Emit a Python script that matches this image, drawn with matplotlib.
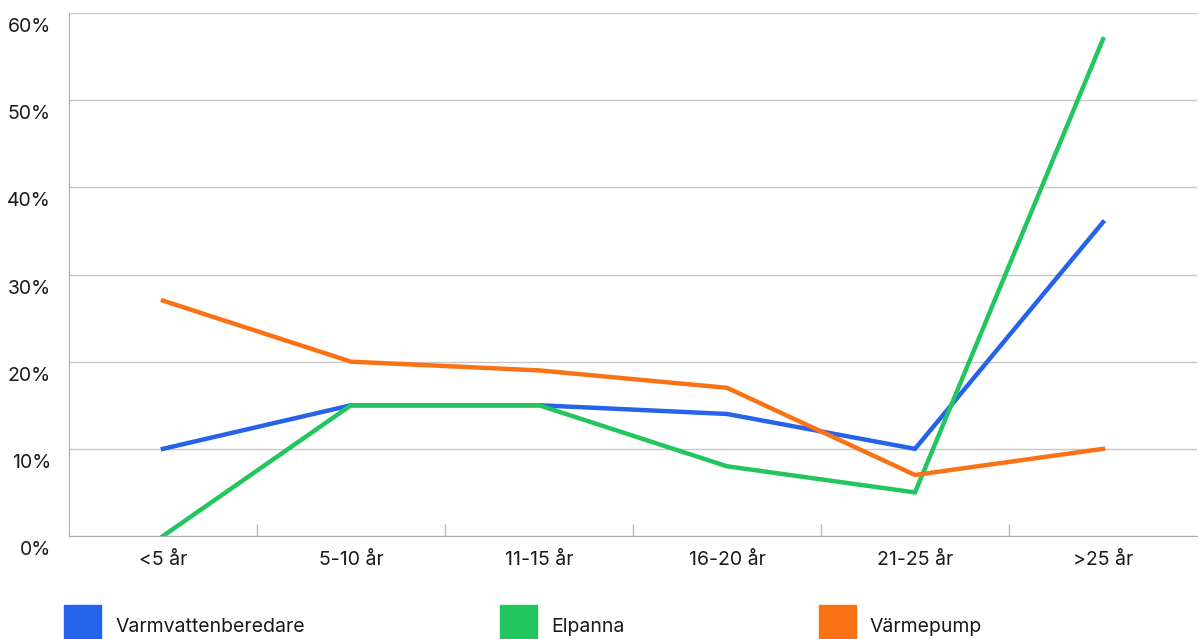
import matplotlib.pyplot as plt
from matplotlib.patches import Rectangle
from matplotlib.transforms import ScaledTranslation

plt.rcParams['font.family'] = ['Inter', 'DejaVu Sans']

kategorier = ['<5 år', '5-10 år', '11-15 år', '16-20 år', '21-25 år', '>25 år']
varmvatten = [10, 15, 15, 14, 10, 36]
elpanna = [0, 15, 15, 8, 5, 57]
varmepump = [27, 20, 19, 17, 7, 10]
serier = ['Varmvattenberedare', 'Elpanna', 'Värmepump']
farger = ['#2563EB', '#22C55E', '#F97316']

fig = plt.figure(figsize=(11.99, 6.39), dpi=100)
ax = fig.add_axes([69 / 1199, 103 / 639, 1128 / 1199, 523 / 639])

x = range(len(kategorier))
for data, f in zip([varmvatten, elpanna, varmepump], farger):
    ax.plot(x, data, color=f, lw=3.2, solid_joinstyle='miter', zorder=3)

ax.set_xlim(-0.5, len(kategorier) - 0.5)
ax.set_ylim(0, 60)
ax.set_yticks(range(0, 61, 10))
ax.set_yticklabels([f'{v}%' for v in range(0, 61, 10)], fontsize=14, color='#1a1a1a')
ax.set_xticks(list(x))
ax.set_xticklabels(kategorier, fontsize=14, color='#1a1a1a')
ax.set_xticks([i + 0.5 for i in range(len(kategorier) - 1)], minor=True)

ax.tick_params(axis='y', length=0, pad=13)
ax.tick_params(axis='x', which='major', length=0, pad=11)
ax.tick_params(axis='x', which='minor', direction='in', length=8.5, color='#bbbbbb', width=1)

# y-etiketter under stödlinjen
off = ScaledTranslation(0, -12 / 100, fig.dpi_scale_trans)
for lab in ax.get_yticklabels():
    lab.set_transform(lab.get_transform() + off)

ax.grid(axis='y', color='#c8c8c8', lw=1)
ax.set_axisbelow(True)
for s in ['top', 'right']:
    ax.spines[s].set_visible(False)
ax.spines['left'].set_color('#aaaaaa')
ax.spines['bottom'].set_color('#aaaaaa')

# legend
legend_x = [64, 500, 819]
for namn, f, lx in zip(serier, farger, legend_x):
    fig.patches.append(Rectangle((lx / 1199, 0), 37 / 1199, 34 / 639,
                                 transform=fig.transFigure, color=f))
    fig.text((lx + 51) / 1199, 12 / 639, namn, fontsize=14, color='#1a1a1a',
             va='center', ha='left')

fig.savefig('out.png', dpi=100)
